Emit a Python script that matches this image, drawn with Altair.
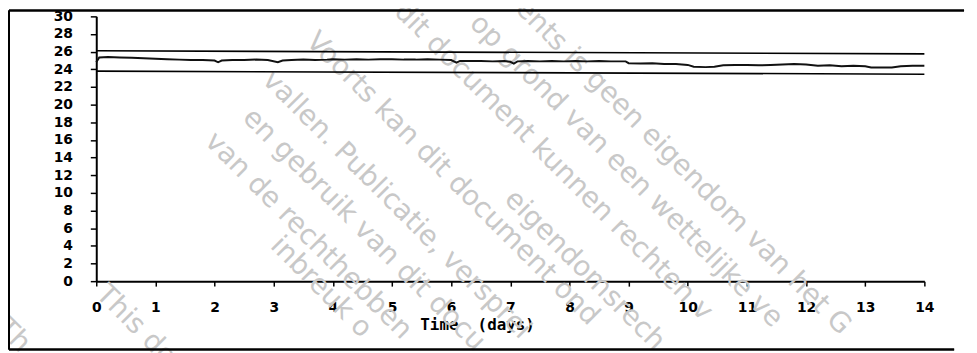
import altair as alt
import pandas as pd

# ---------------- data ----------------
days = [0.00, 0.05, 0.2, 0.4, 0.6, 0.8, 1.0, 1.2, 1.4, 1.6, 1.8, 2.0, 2.06, 2.12,
        2.3, 2.5, 2.7, 2.9, 3.07, 3.15, 3.3, 3.5, 3.7, 3.9, 4.0, 4.2, 4.4, 4.6,
        4.8, 5.0, 5.2, 5.4, 5.6, 5.8, 6.0, 6.09, 6.15, 6.3, 6.5, 6.7, 6.9, 7.0,
        7.06, 7.12, 7.3, 7.5, 7.7, 7.9, 8.1, 8.3, 8.5, 8.7, 8.95, 9.0, 9.2, 9.4,
        9.6, 9.8, 10.0, 10.1, 10.3, 10.45, 10.6, 10.8, 11.0, 11.2, 11.4, 11.6,
        11.8, 12.0, 12.2, 12.4, 12.6, 12.8, 13.0, 13.1, 13.3, 13.45, 13.6, 13.8, 14.0]
temps = [24.8, 25.35, 25.4, 25.35, 25.3, 25.25, 25.2, 25.15, 25.1, 25.05, 25.05, 25.0, 24.8, 25.0,
         25.05, 25.05, 25.1, 25.05, 24.8, 25.0, 25.05, 25.1, 25.05, 25.1, 25.15, 25.1, 25.15, 25.1,
         25.15, 25.15, 25.1, 25.1, 25.15, 25.1, 25.05, 24.75, 24.95, 24.95, 24.95, 24.9, 24.95, 24.85,
         24.65, 24.9, 24.95, 24.9, 24.95, 24.9, 24.95, 24.9, 24.95, 24.9, 24.9, 24.7, 24.65, 24.7,
         24.6, 24.6, 24.5, 24.3, 24.25, 24.3, 24.45, 24.5, 24.5, 24.45, 24.5, 24.55,
         24.6, 24.55, 24.4, 24.45, 24.35, 24.4, 24.35, 24.2, 24.2, 24.2, 24.35, 24.4, 24.4]

limit_days = [0, 14]
upper_limit = [26.1, 25.75]
lower_limit = [23.8, 23.45]

x_ticks = list(range(0, 15))
y_ticks = list(range(0, 31, 2))
x_title = "Time\u00a0\u00a0(days)"

# watermark text lines (visible parts)
wm_text = [
    "Th",
    "This do",
    "inbreuk o",
    "van de rechthebben",
    "en gebruik van dit docu",
    "vallen. Publicatie, versprei",
    "Voorts kan dit document ond",
    "dit document kunnen rechten v",
    "op grond van een wettelijke ve",
    "ents is geen eigendom van het G",
    "eigendomsrech",
]

# ---------------- layout ----------------
W, H = 835, 267
PAD_L, PAD_T = 89, 7
# watermark anchor points (pixels relative to the plot origin)
wm_x = [-86, 14, 190, 124, 162, 182, 226, 315, 391, 437, 426]
wm_y = [300, 266, 217, 112, 88, 50, 11, -19, -7, -22, 170]

df = pd.DataFrame({"day": days, "temp": temps})
lim = pd.DataFrame({"day": limit_days, "upper": upper_limit, "lower": lower_limit})
wm = pd.DataFrame({"x": wm_x, "y": wm_y, "t": wm_text})

xs = alt.Scale(domain=[0, 14], nice=False, zero=False)
ys = alt.Scale(domain=[0, 30], nice=False)

x_axis = alt.Axis(values=x_ticks, tickCount=15, format="d", grid=False, title=x_title,
                  labelFont="DejaVu Sans", labelFontWeight="bold", labelFontSize=14,
                  labelColor="black", labelPadding=15, labelFlush=False, labelOverlap=False,
                  tickColor="black", tickSize=5, tickWidth=1.5,
                  domainColor="black", domainWidth=2,
                  titleFont="DejaVu Sans Mono", titleFontWeight="bold", titleFontSize=16,
                  titleColor="black", titleX=384, titleY=44,
                  titleAlign="center", titleBaseline="middle")
y_axis = alt.Axis(values=y_ticks, tickCount=16, format="d", grid=False, title=None,
                  labelFont="DejaVu Sans", labelFontWeight="bold", labelFontSize=14,
                  labelColor="black", labelPadding=18, labelOverlap=False, labelFlush=False,
                  tickColor="black", tickSize=6, tickWidth=1.5,
                  domainColor="black", domainWidth=2)

watermark = alt.Chart(wm).mark_text(
    angle=45, align="left", baseline="top", font="DejaVu Sans", fontSize=28,
    color="#c8c8c8"
).encode(
    x=alt.X("x:Q", scale=None),
    y=alt.Y("y:Q", scale=None),
    text="t:N",
)

upper = alt.Chart(lim).mark_line(color="black", strokeWidth=1.6).encode(
    x=alt.X("day:Q", scale=xs, axis=x_axis),
    y=alt.Y("upper:Q", scale=ys, axis=y_axis),
)
lower = alt.Chart(lim).mark_line(color="black", strokeWidth=1.6).encode(
    x=alt.X("day:Q", scale=xs, axis=x_axis),
    y=alt.Y("lower:Q", scale=ys, axis=y_axis),
)
series = alt.Chart(df).mark_line(color="#111111", strokeWidth=2).encode(
    x=alt.X("day:Q", scale=xs, axis=x_axis),
    y=alt.Y("temp:Q", scale=ys, axis=y_axis),
)

# outer frame of the figure (top, left, bottom)
frame_top = alt.Chart(lim).mark_rule(color="black", strokeWidth=2).encode(
    x=alt.value(-PAD_L + 1), x2=alt.value(W + 40), y=alt.value(-PAD_T + 1))
frame_left = alt.Chart(lim).mark_rule(color="black", strokeWidth=2).encode(
    x=alt.value(-PAD_L + 1), y=alt.value(-PAD_T + 1), y2=alt.value(336))
frame_bottom = alt.Chart(lim).mark_rule(color="black", strokeWidth=2).encode(
    x=alt.value(-PAD_L + 1), x2=alt.value(W + 30), y=alt.value(336))

chart = alt.layer(
    watermark, upper, lower, series, frame_top, frame_left, frame_bottom
).properties(
    width=W, height=H,
    autosize=alt.AutoSizeParams(type="none"),
    padding={"left": PAD_L, "top": PAD_T, "right": 45, "bottom": 71},
    background="white",
).configure_view(stroke=None)

chart.save("out.html", embed_options={"renderer": "svg", "actions": False})
